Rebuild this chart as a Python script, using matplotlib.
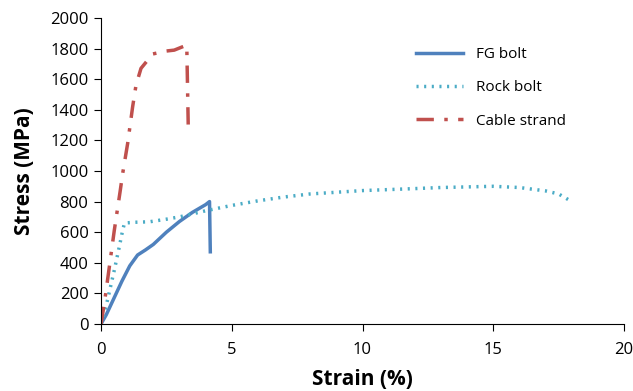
import matplotlib.pyplot as plt

# data
fg_strain = [0, 0.2, 0.5, 0.8, 1.1, 1.4, 1.7, 2.0, 2.5, 3.0, 3.5, 4.0, 4.15, 4.18]
fg_stress = [0, 60, 170, 280, 380, 451, 484, 520, 600, 670, 730, 780, 800, 472]

rock_strain = [0, 0.19, 0.51, 0.7, 0.83, 0.9, 1.3, 1.85, 2.5, 3.0, 4.0, 5.0, 6.0, 7.0, 8.0,
               10.0, 12.0, 13.0, 15.0, 16.0, 17.0, 17.5, 18.0]
rock_stress = [0, 113, 353, 505, 614, 660, 665, 668, 685, 700, 740, 775, 805, 830, 850,
               872, 885, 892, 900, 892, 870, 850, 800]

cable_strain = [0, 0.13, 0.32, 0.51, 0.73, 0.83, 1.02, 1.21, 1.34, 1.53, 1.98, 2.49, 2.8,
                3.28, 3.34]
cable_stress = [0, 137, 375, 614, 865, 985, 1181, 1420, 1562, 1671, 1765, 1784, 1790,
                1823, 1257]

plt.rcParams['font.family'] = ['Open Sans', 'DejaVu Sans']

fig = plt.figure(figsize=(6.33, 3.91), dpi=100)
ax = fig.add_axes([101 / 633, 1 - 324 / 391, 523 / 633, 306 / 391])

ax.plot(fg_strain, fg_stress, color='#4f81bd', lw=2.5, label='FG bolt')
ax.plot(rock_strain, rock_stress, color='#4bacc6', lw=2.5, linestyle=(0, (0.6, 1.6)),
        label='Rock bolt')
ax.plot(cable_strain, cable_stress, color='#c0504d', lw=2.5, linestyle=(0, (5, 3, 1, 3)),
        label='Cable strand')

ax.set_xlim(0, 20)
ax.set_ylim(0, 2000)
ax.set_xticks([0, 5, 10, 15, 20])
ax.set_yticks(range(0, 2001, 200))
ax.spines['top'].set_visible(False)
ax.spines['right'].set_visible(False)
ax.tick_params(labelsize=12, direction='out', length=5)
ax.tick_params(axis='x', pad=8)
ax.tick_params(axis='y', pad=4)
ax.set_xlabel('Strain (%)', fontsize=15, fontweight='bold', labelpad=8)
ax.set_ylabel('Stress (MPa)', fontsize=15, fontweight='bold', labelpad=11)

ax.legend(loc='upper left', bbox_to_anchor=(0.576, 0.95), frameon=False, fontsize=11,
          handlelength=3.1, handletextpad=0.8, labelspacing=1.2)

fig.savefig('out.png', dpi=100)
